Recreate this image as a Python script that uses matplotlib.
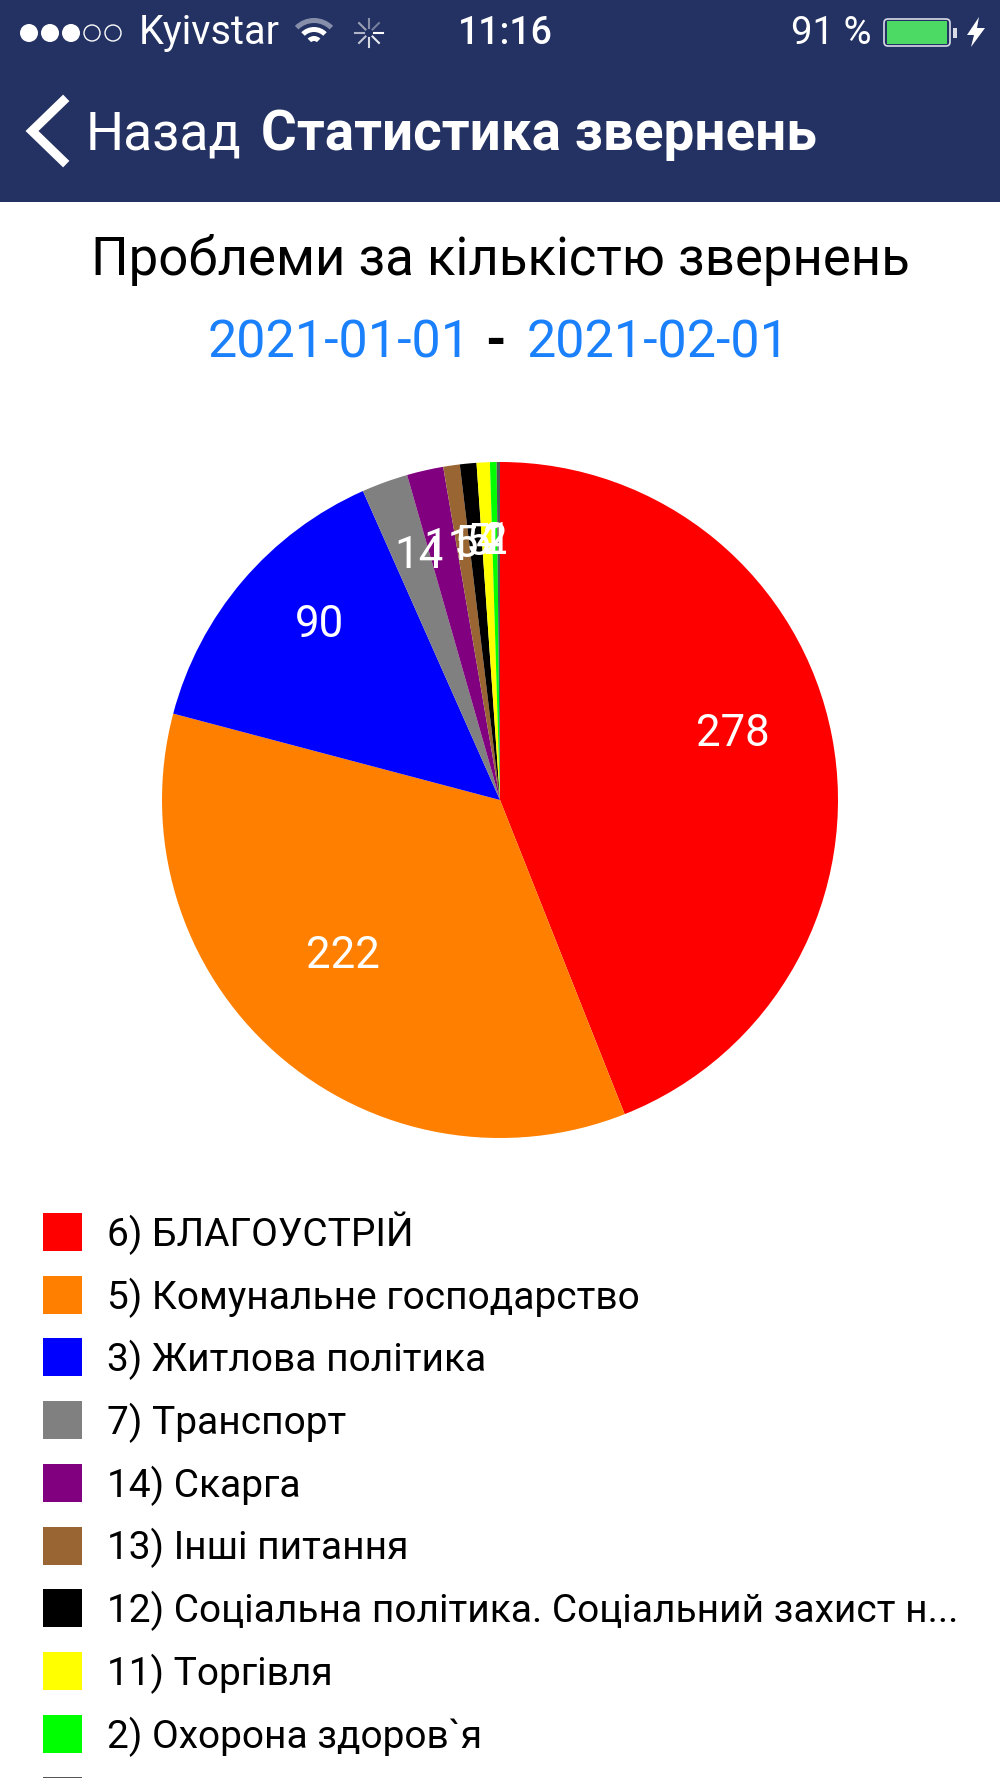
import numpy as np
import matplotlib
matplotlib.use('Agg')
import matplotlib.pyplot as plt
from matplotlib.patches import Circle, Rectangle, FancyBboxPatch, Wedge, Polygon

plt.rcParams['font.family'] = ['Roboto', 'DejaVu Sans']

categories = ['6) БЛАГОУСТРІЙ', '5) Комунальне господарство', '3) Житлова політика',
              '7) Транспорт', '14) Скарга', '13) Інші питання',
              '12) Соціальна політика. Соціальний захист н...', '11) Торгівля',
              '2) Охорона здоров`я', '']
values = [278, 222, 90, 14, 11, 5, 5, 4, 2, 1]
colors = ['#ff0000', '#ff8000', '#0000ff', '#808080', '#800080',
          '#996633', '#000000', '#ffff00', '#00ff00', '#555555']

title = 'Проблеми за кількістю звернень'
date_from = '2021-01-01'
date_to = '2021-02-01'

NAVY = '#243263'
BLUE = '#1a80fb'

fig = plt.figure(figsize=(10, 17.78), dpi=100)

# pixel axes for the phone chrome and the legend
bg = fig.add_axes([0, 0, 1, 1])
bg.set_xlim(0, 1000)
bg.set_ylim(1778, 0)
bg.axis('off')

bg.add_patch(Rectangle((0, 0), 1000, 202, color=NAVY, lw=0))

# status bar
for i in range(5):
    x = 29 + i * 21
    if i < 3:
        bg.add_patch(Circle((x, 33), 9, color='white', lw=0))
    else:
        bg.add_patch(Circle((x, 33), 8, fc='none', ec='white', lw=1))
bg.text(139, 33, 'Kyivstar', color='white', fontsize=28.5, va='center', ha='left')
bg.text(505, 33, '11:16', color='white', fontsize=27, weight='medium', va='center', ha='center')
bg.text(791, 33, '91 %', color='white', fontsize=27.5, va='center', ha='left')

# wifi (drawn by hand, y is flipped in this axes)
for r, a in [(27, 0.45), (18, 1.0), (9, 1.0)]:
    bg.add_patch(Wedge((314, 45), r, 225, 315, width=5, color='white', alpha=a, lw=0))

# spinner
for i, ang in enumerate(np.arange(0, 360, 45)):
    c, s = np.cos(np.radians(ang)), np.sin(np.radians(ang))
    bg.plot([369 + 5 * c, 369 + 14 * c], [33 + 5 * s, 33 + 14 * s],
            color='white', lw=1.5, alpha=1 - i * 0.09)

# battery
bg.add_patch(FancyBboxPatch((884, 19), 66, 27, boxstyle='round,pad=0,rounding_size=4',
                            fc='none', ec='#d8dbe6', lw=1.2))
bg.add_patch(Rectangle((887, 21), 60, 23, color='#4cd964', lw=0))
bg.add_patch(Rectangle((953, 28), 4, 10, color='#d8dbe6', lw=0))
bg.add_patch(Polygon([[979, 17], [967, 35], [974, 35], [971, 47], [985, 28], [977, 28]],
                     color='white', lw=0))

# nav bar
bg.plot([63, 32, 63], [101, 131, 161], color='white', lw=6.5, solid_joinstyle='miter')
bg.text(86, 135, 'Назад', color='white', fontsize=38.5, va='center', ha='left')
bg.text(261, 135, 'Статистика звернень', color='white', fontsize=39.4, weight='bold',
        va='center', ha='left')

# heading
bg.text(500, 260, title, color='black', fontsize=38, va='center', ha='center')
bg.text(339, 343, date_from, color=BLUE, fontsize=37.5, va='center', ha='center')
bg.text(495, 343, '-', color='black', fontsize=38, weight='bold', va='center', ha='center')
bg.text(658, 343, date_to, color=BLUE, fontsize=37.5, va='center', ha='center')

# legend
for i, (name, col) in enumerate(zip(categories, colors)):
    y = 1232 + i * 62.7
    bg.add_patch(Rectangle((43, y - 19), 39, 38, color=col, lw=0))
    bg.text(107, y + 14, name, color='black', fontsize=28, va='baseline', ha='left')

# pie
cx, cy, rad = 500, 800, 338
ax = fig.add_axes([(cx - rad) / 1000, 1 - (cy + rad) / 1778, 2 * rad / 1000, 2 * rad / 1778])
wedges, _ = ax.pie(values, colors=colors, startangle=90, counterclock=False, radius=1)
ax.set_xlim(-1, 1)
ax.set_ylim(-1, 1)
for w, v in zip(wedges, values):
    mid = np.radians((w.theta1 + w.theta2) / 2)
    # labels sit a little above the radial position in the reference
    ax.text(0.7 * np.cos(mid), 0.7 * np.sin(mid) + 0.063, str(v), color='white', fontsize=31.5,
            ha='center', va='center')

fig.savefig('out.png', dpi=100)
